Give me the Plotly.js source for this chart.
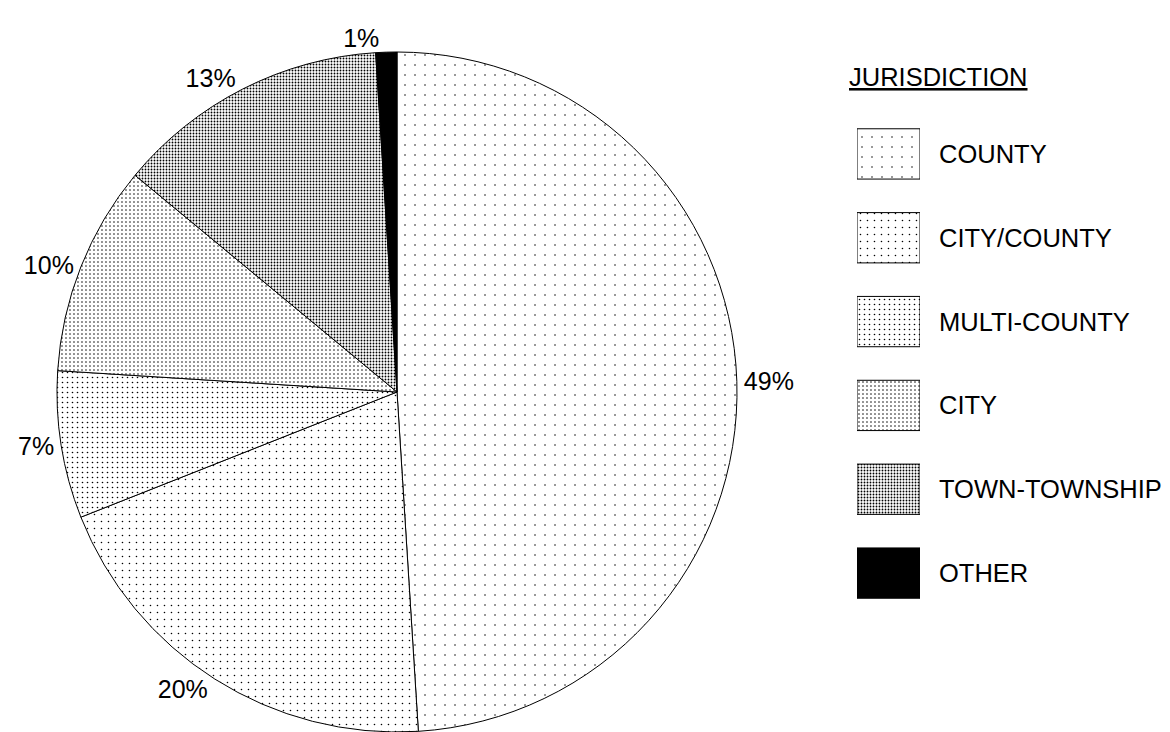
<!DOCTYPE html>
<html>
<head>
<meta charset="utf-8">
<script src="https://cdn.plot.ly/plotly-3.0.1.min.js"></script>
<style>html,body{margin:0;padding:0;background:#fff;}#chart{width:1170px;height:732px;}</style>
</head>
<body>
<div id="chart"></div>
<script>
// ---- data ----
const categories = ['COUNTY', 'CITY/COUNTY', 'MULTI-COUNTY', 'CITY', 'TOWN-TOWNSHIP', 'OTHER'];
const shares = [49, 20, 7, 10, 13, 1];
const legendTitle = 'JURISDICTION';

// ---- styles (halftone dot patterns) ----
const fillColors = ['#ffffff', '#ffffff', '#ffffff', '#ffffff', '#ffffff', '#000000'];
const patShapes = ['.', '.', '.', '.', '.', ''];
const patSizes = [10, 7, 5, 4, 3, 3];
const patSolidity = [0.018, 0.04, 0.08, 0.12, 0.3, 0.5];
const FONT = 'Liberation Sans, Arial, Helvetica, sans-serif';
const W = 1170, H = 732, T = 52;

const pie = {
  type: 'pie',
  labels: categories,
  values: shares,
  sort: false,
  direction: 'clockwise',
  rotation: 0,
  texttemplate: '%{value}%',
  textposition: 'outside',
  outsidetextfont: {family: FONT, size: 25, color: '#000'},
  marker: {
    colors: fillColors,
    pattern: {shape: patShapes, size: patSizes, solidity: patSolidity, fgcolor: '#000000', fillmode: 'replace'},
    line: {color: '#000', width: 1}
  },
  domain: {x: [57 / W, 737 / W], y: [0, 1]},
  hoverinfo: 'none',
  showlegend: false
};

// legend key boxes: one small bar per category, same fill as its slice
const legendKeys = categories.map((c, i) => ({
  type: 'bar',
  orientation: 'h',
  y: [c],
  x: [1],
  width: 0.6,
  marker: {
    color: fillColors[i],
    pattern: {shape: patShapes[i], size: patSizes[i], solidity: patSolidity[i], fgcolor: '#000000'},
    line: {color: '#000', width: 1}
  },
  hoverinfo: 'none',
  showlegend: false
}));

const py = p => 1 - (p - T) / (H - T);

const layout = {
  width: W, height: H,
  margin: {l: 0, r: 0, t: T, b: 0},
  paper_bgcolor: '#fff',
  plot_bgcolor: 'rgba(0,0,0,0)',
  font: {family: FONT, size: 25, color: '#000'},
  showlegend: false,
  barmode: 'overlay',
  xaxis: {domain: [857 / W, 920 / W], range: [0, 1], visible: false, fixedrange: true},
  yaxis: {
    domain: [py(615), py(112)], anchor: 'x', side: 'right', autorange: 'reversed',
    categoryorder: 'array', categoryarray: categories,
    showline: false, showgrid: false, zeroline: false, ticks: '',
    ticklabelstandoff: 18, tickfont: {family: FONT, size: 25.5, color: '#000'}, fixedrange: true
  },
  annotations: [{
    text: '<u>' + legendTitle + '</u>', xref: 'paper', yref: 'paper',
    x: 847 / W, y: py(77), xanchor: 'left', yanchor: 'middle', showarrow: false,
    font: {family: FONT, size: 25.5, color: '#000'}
  }]
};

Plotly.newPlot('chart', [pie].concat(legendKeys), layout, {displayModeBar: false, staticPlot: true});
</script>
</body>
</html>
